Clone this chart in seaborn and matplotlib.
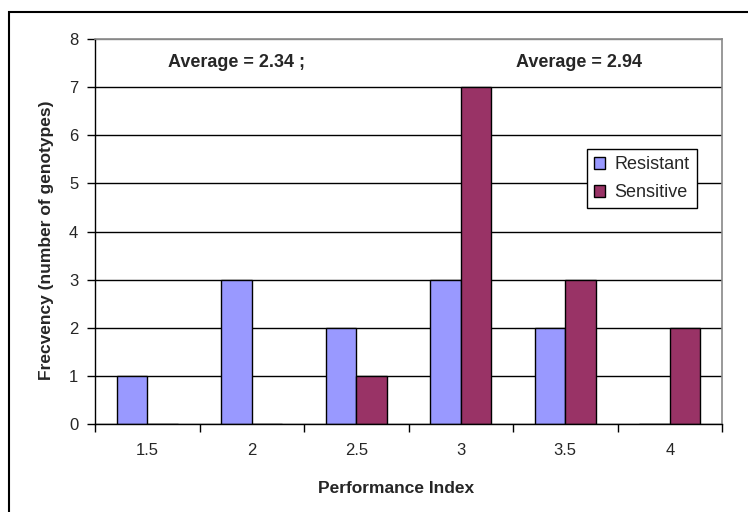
import matplotlib
matplotlib.use("Agg")
import matplotlib.pyplot as plt
import pandas as pd
import seaborn as sns
from matplotlib.patches import Rectangle

# Frequency of genotypes per performance index class
perf_index = ["1.5", "2", "2.5", "3", "3.5", "4"]
resistant = [1, 3, 2, 3, 2, 0]
sensitive = [0, 0, 1, 7, 3, 2]
groups = ["Resistant", "Sensitive"]
group_colors = ["#9999FF", "#993366"]
avg_labels = ["Average = 2.34 ;", "Average = 2.94"]
y_ticks = list(range(0, 9))

df = pd.DataFrame({
    "Performance Index": perf_index * 2,
    "Count": resistant + sensitive,
    "Group": [groups[0]] * len(perf_index) + [groups[1]] * len(perf_index),
})

sns.set_theme(style="white")
plt.rcParams["font.family"] = ["Liberation Sans", "DejaVu Sans"]

fig = plt.figure(figsize=(7.48, 5.12), dpi=100)
ax = fig.add_axes([95 / 748, 1 - 424 / 512, 627 / 748, 385 / 512])

sns.barplot(data=df, x="Performance Index", y="Count", hue="Group",
            palette=group_colors, width=0.585, gap=0, saturation=1,
            edgecolor="black", linewidth=1, errorbar=None, ax=ax)

ax.set_ylim(0, 8)
ax.set_xlim(-0.5, len(perf_index) - 0.5)
ax.set_yticks(y_ticks)
ax.set_yticklabels([str(t) for t in y_ticks], fontsize=12)
ax.set_xticks(range(len(perf_index)))
ax.set_xticklabels(perf_index, fontsize=12)
ax.set_xticks([i - 0.5 for i in range(len(perf_index) + 1)], minor=True)

ax.tick_params(axis="y", which="major", direction="out", length=6, width=1,
               color="black", pad=6, left=True)
ax.tick_params(axis="x", which="major", length=0, pad=14)
ax.tick_params(axis="x", which="minor", direction="out", length=6, width=1,
               color="black", bottom=True)

# horizontal gridlines; the top one merges with the plot-area border
ax.yaxis.grid(True, color="black", linewidth=1)
ax.set_axisbelow(True)
ax.yaxis.get_gridlines()[-1].set_color("#888888")

for side in ["left", "bottom"]:
    ax.spines[side].set_color("black")
    ax.spines[side].set_linewidth(1)
for side in ["top", "right"]:
    ax.spines[side].set_visible(True)
    ax.spines[side].set_color("#888888")
    ax.spines[side].set_linewidth(1.2)

ax.set_xlabel("Performance Index", fontsize=12.5, fontweight="bold")
ax.set_ylabel("Frecvency (number of genotypes)", fontsize=12.5, fontweight="bold")
ax.xaxis.set_label_coords((396 - 95) / 627, -0.148)
ax.yaxis.set_label_coords(-0.065, 0.478)

ax.text(0.225, 0.94, avg_labels[0], transform=ax.transAxes, ha="center",
        va="center", fontsize=13, fontweight="bold")
ax.text(0.772, 0.94, avg_labels[1], transform=ax.transAxes, ha="center",
        va="center", fontsize=13, fontweight="bold")

handles, labels = ax.get_legend_handles_labels()
leg = ax.legend(handles, labels, loc="upper left", bbox_to_anchor=(0.785, 0.714),
                fontsize=13, frameon=True, fancybox=False, framealpha=1,
                edgecolor="black", handlelength=0.6, handleheight=0.6,
                handletextpad=0.5, borderpad=0.4, labelspacing=0.6,
                borderaxespad=0)
leg.get_frame().set_linewidth(1)

# chart-area border
fig.patches.append(Rectangle((9 / 748, -0.1), 2, 1 - 12 / 512 + 0.1,
                             transform=fig.transFigure, fill=False,
                             edgecolor="black", linewidth=1.5))

fig.savefig("out.png", dpi=100)
